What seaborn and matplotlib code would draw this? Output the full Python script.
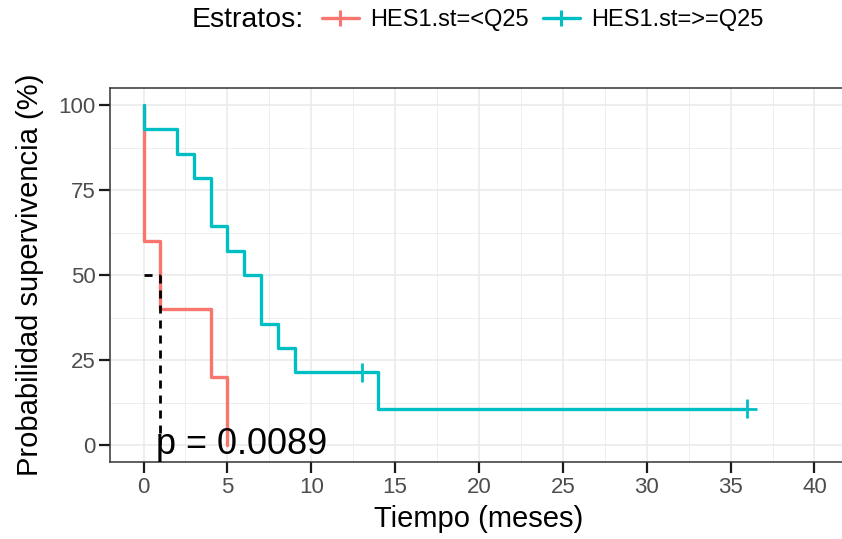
import matplotlib
matplotlib.use("Agg")
import matplotlib.pyplot as plt
from matplotlib.lines import Line2D
from matplotlib.ticker import MultipleLocator
import numpy as np
import pandas as pd
import seaborn as sns

# Kaplan-Meier step curves (survival in %) for each stratum
strata = ["HES1.st=<Q25", "HES1.st=>=Q25"]
palette = ["#F8766D", "#00BFC4"]

low_time = [0, 0, 1, 4, 5]
low_surv = [100, 60, 40, 20, 0]

high_time = [0, 0, 2, 3, 4, 5, 6, 7, 8, 9, 14, 36]
high_surv = [100, 92.86, 85.71, 78.57, 64.29, 57.14, 50.0, 35.71, 28.57, 21.43, 10.71, 10.71]

# censored observations of the >=Q25 stratum
cens_time = [13, 36]
cens_surv = [21.43, 10.71]

# median survival of the <Q25 stratum
median_time = 1
median_surv = 50

p_label = "p = 0.0089"

curves = pd.concat([
    pd.DataFrame({"tiempo": low_time, "surv": low_surv, "estrato": strata[0]}),
    pd.DataFrame({"tiempo": high_time, "surv": high_surv, "estrato": strata[1]}),
], ignore_index=True)
censored = pd.DataFrame({"tiempo": cens_time, "surv": cens_surv, "estrato": strata[1]})

sns.set_theme(style="white")
plt.rcParams["font.family"] = ["Liberation Sans", "DejaVu Sans"]

fig = plt.figure(figsize=(8.42, 5.39), dpi=100)
ax = fig.add_axes([110 / 842, 77 / 539, 738 / 842, 374 / 539])
ax.set_facecolor("white")

sns.lineplot(data=curves, x="tiempo", y="surv", hue="estrato", hue_order=strata,
             palette=palette, estimator=None, sort=False, drawstyle="steps-post",
             linewidth=2.4, legend=False, ax=ax, zorder=3)
sns.scatterplot(data=censored, x="tiempo", y="surv", hue="estrato", hue_order=strata,
                palette=palette, marker="+", s=190, linewidth=2.0, legend=False,
                ax=ax, zorder=4)

# median survival guide lines
ax.plot([0, median_time], [median_surv, median_surv], color="black", lw=2.0,
        dashes=(2.9, 2.5), zorder=5)
ax.plot([median_time, median_time], [median_surv, 0], color="black", lw=2.0,
        dashes=(2.9, 2.5), zorder=5)

ax.text(36 / 50, -2.7, p_label, fontsize=26, color="black", ha="left",
        va="baseline", zorder=6)

ax.set_xlim(-2, 42)
ax.set_ylim(-5, 105)
ax.xaxis.set_major_locator(MultipleLocator(5))
ax.xaxis.set_minor_locator(MultipleLocator(2.5))
ax.yaxis.set_major_locator(MultipleLocator(25))
ax.yaxis.set_minor_locator(MultipleLocator(12.5))
ax.grid(which="major", color="#EBEBEB", lw=1.2, zorder=0)
ax.grid(which="minor", color="#EBEBEB", lw=0.6, zorder=0)
ax.set_axisbelow(True)

for side in ["left", "bottom", "top", "right"]:
    ax.spines[side].set_visible(True)
    ax.spines[side].set_color("#333333")
    ax.spines[side].set_linewidth(1.1)

ax.tick_params(which="major", direction="out", length=8, width=1.6,
               color="#1a1a1a", labelcolor="#4D4D4D", labelsize=16, pad=2.5,
               left=True, bottom=True)
ax.tick_params(which="minor", length=0)

ax.set_xlabel("Tiempo (meses)", fontsize=21, color="black", labelpad=5)
ax.set_ylabel("Probabilidad supervivencia (%)", fontsize=21, color="black", labelpad=10)

# legend across the top
fig.text(192 / 842, 0.962, "Estratos:", fontsize=20.5, color="black",
         ha="left", va="center")
handles = [Line2D([], [], color=c, lw=2.4, marker="+", markersize=11, mew=2.2)
           for c in palette]
leg = fig.legend(handles, strata, loc="center left", bbox_to_anchor=(322 / 842, 0.962),
                 ncol=2, frameon=False, fontsize=17, handlelength=1.55,
                 handletextpad=0.5, columnspacing=0.6, borderpad=0, borderaxespad=0)
for t in leg.get_texts():
    t.set_color("black")

fig.savefig("out.png", dpi=100)
